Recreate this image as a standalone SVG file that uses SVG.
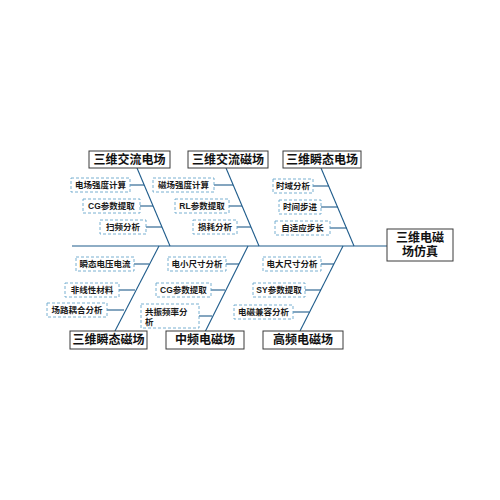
<svg xmlns="http://www.w3.org/2000/svg" width="500" height="500" viewBox="0 0 500 500">
<style>
.bg{fill:#ffffff}
.cat rect{fill:#ffffff;stroke:#3a3a3a;stroke-width:1}
.cat text{font-family:"Liberation Sans","Noto Sans CJK SC",sans-serif;font-size:12px;font-weight:bold;fill:#111;text-anchor:middle;dominant-baseline:central}
.sub rect{fill:#ffffff;stroke:#6aa7cc;stroke-width:0.9;stroke-dasharray:3 2}
.sub text{font-family:"Liberation Sans","Noto Sans CJK SC",sans-serif;font-size:8.5px;font-weight:bold;fill:#1a1a1a;text-anchor:middle;dominant-baseline:central}
.conn line{stroke:#1f5c8b;stroke-width:1.1;fill:none}
.spine{stroke:#1f5c8b;stroke-width:2.2}
</style>
<rect class="bg" x="0" y="0" width="500" height="500"/>
<g id="connectors" class="conn">
<line class="spine" x1="72" y1="246" x2="387" y2="246"/>
<line x1="137" y1="168" x2="170" y2="246"/>
<line x1="226" y1="168" x2="259" y2="246"/>
<line x1="321" y1="168" x2="354" y2="246"/>
<line x1="159" y1="246" x2="115" y2="331"/>
<line x1="248" y1="246" x2="205" y2="332"/>
<line x1="343" y1="246" x2="300" y2="331"/>
<line x1="130" y1="185" x2="144" y2="185"/>
<line x1="140" y1="206" x2="153" y2="206"/>
<line x1="146" y1="227" x2="162" y2="227"/>
<line x1="214" y1="185" x2="233" y2="185"/>
<line x1="229" y1="206" x2="242" y2="206"/>
<line x1="237" y1="227" x2="251" y2="227"/>
<line x1="313" y1="186" x2="329" y2="186"/>
<line x1="321" y1="207" x2="338" y2="207"/>
<line x1="330" y1="228" x2="347" y2="228"/>
<line x1="134" y1="264" x2="149" y2="264"/>
<line x1="119" y1="290" x2="135" y2="290"/>
<line x1="107" y1="310" x2="124" y2="310"/>
<line x1="226" y1="264" x2="239" y2="264"/>
<line x1="211" y1="290" x2="225" y2="290"/>
<line x1="199" y1="316" x2="212" y2="316"/>
<line x1="321" y1="264" x2="334" y2="264"/>
<line x1="305" y1="290" x2="321" y2="290"/>
<line x1="293" y1="312" x2="309" y2="312"/>
</g>
<g id="root" class="cat"><rect x="387" y="229" width="66" height="32"/><text x="420" y="238">三维电磁</text><text x="420" y="252">场仿真</text></g>
<g id="c1" class="cat"><rect x="89" y="151" width="81" height="17"/><text x="129.5" y="159.5">三维交流电场</text></g>
<g id="c2" class="cat"><rect x="188" y="151" width="80" height="17"/><text x="228" y="159.5">三维交流磁场</text></g>
<g id="c3" class="cat"><rect x="283" y="151" width="78" height="17"/><text x="322" y="159.5">三维瞬态电场</text></g>
<g id="c4" class="cat"><rect x="70" y="331" width="77" height="18"/><text x="108.5" y="340">三维瞬态磁场</text></g>
<g id="c5" class="cat"><rect x="166" y="331" width="78" height="18"/><text x="205" y="340">中频电磁场</text></g>
<g id="c6" class="cat"><rect x="263" y="331" width="80" height="18"/><text x="303" y="340">高频电磁场</text></g>
<g id="s1" class="sub"><rect x="71" y="178" width="59" height="14"/><text x="100.5" y="185">电场强度计算</text></g>
<g id="s2" class="sub"><rect x="83" y="199" width="57" height="14"/><text x="111.5" y="206">CG参数提取</text></g>
<g id="s3" class="sub"><rect x="100" y="220" width="46" height="14"/><text x="123" y="227">扫频分析</text></g>
<g id="s4" class="sub"><rect x="153" y="178" width="61" height="14"/><text x="183.5" y="185">磁场强度计算</text></g>
<g id="s5" class="sub"><rect x="175" y="199" width="54" height="14"/><text x="202" y="206">RL参数提取</text></g>
<g id="s6" class="sub"><rect x="193" y="220" width="44" height="14"/><text x="215" y="227">损耗分析</text></g>
<g id="s7" class="sub"><rect x="273" y="179" width="40" height="14"/><text x="293" y="186">时域分析</text></g>
<g id="s8" class="sub"><rect x="279" y="200" width="42" height="14"/><text x="300" y="207">时间步进</text></g>
<g id="s9" class="sub"><rect x="275" y="221" width="55" height="14"/><text x="302.5" y="228">自适应步长</text></g>
<g id="s10" class="sub"><rect x="76" y="257" width="58" height="14"/><text x="105" y="264">瞬态电压电流</text></g>
<g id="s11" class="sub"><rect x="65" y="283" width="54" height="14"/><text x="92" y="290">非线性材料</text></g>
<g id="s12" class="sub"><rect x="47" y="303" width="60" height="14"/><text x="77" y="310">场路耦合分析</text></g>
<g id="s13" class="sub"><rect x="168" y="257" width="58" height="14"/><text x="197" y="264">电小尺寸分析</text></g>
<g id="s14" class="sub"><rect x="156" y="283" width="55" height="14"/><text x="183.5" y="290">CG参数提取</text></g>
<g id="s15" class="sub"><rect x="141" y="304" width="58" height="24"/><text x="145" y="311.5" style="text-anchor:start">共振频率分</text><text x="145" y="321.5" style="text-anchor:start">析</text></g>
<g id="s16" class="sub"><rect x="263" y="257" width="58" height="14"/><text x="292" y="264">电大尺寸分析</text></g>
<g id="s17" class="sub"><rect x="253" y="283" width="52" height="14"/><text x="279" y="290">SY参数提取</text></g>
<g id="s18" class="sub"><rect x="234" y="305" width="59" height="14"/><text x="263.5" y="312">电磁兼容分析</text></g>
</svg>
